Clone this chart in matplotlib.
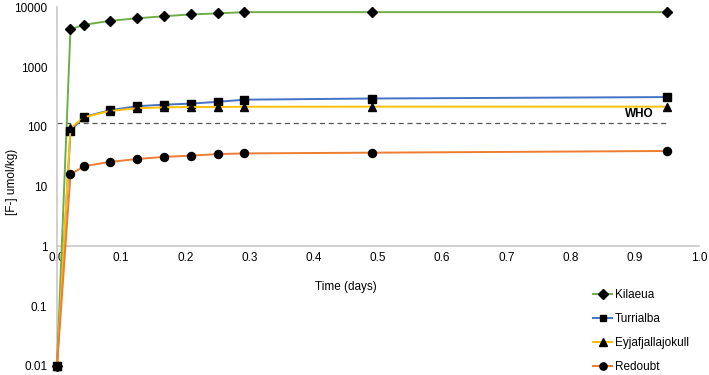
import numpy as np
import matplotlib
matplotlib.use("Agg")
import matplotlib.pyplot as plt
from matplotlib.ticker import FixedLocator, FixedFormatter

plt.rcParams['font.family'] = ['Liberation Sans', 'DejaVu Sans']

# time in days
time = [0.0, 0.021, 0.042, 0.083, 0.125, 0.167, 0.208, 0.25, 0.292, 0.49, 0.95]

kilaeua = [0.01, 4300, 5100, 5950, 6550, 7100, 7600, 7900, 8300, 8300, 8300]
turrialba = [0.01, 85, 147, 190, 222, 235, 245, 262, 285, 298, 315]
eyjafjallajokull = [0.01, 95, 145, 185, 205, 212, 215, 215, 217, 218, 218]
redoubt = [0.01, 16, 22, 26, 29, 31.5, 33, 35, 36, 37, 39.5]

who_level = 118

series_names = ['Kilaeua', 'Turrialba', 'Eyjafjallajokull', 'Redoubt']
series_vals = [kilaeua, turrialba, eyjafjallajokull, redoubt]
colors = ['#70AD47', '#4472C4', '#FFC000', '#ED7D31']
markers = ['D', 's', '^', 'o']
msizes = [5.2, 5.3, 5.8, 5.8]

yticks = [0.01, 0.1, 1, 10, 100, 1000, 10000]
ytick_labels = ['0.01', '0.1', '1', '10', '100', '1000', '10000']
xticks = [0.0, 0.1, 0.2, 0.3, 0.4, 0.5, 0.6, 0.7, 0.8, 0.9, 1.0]

fig = plt.figure(figsize=(7.09, 3.75), dpi=100)
ax = fig.add_axes([57/709, 9/375, 642/709, 358.7/375])

for name, vals, c, m, ms in zip(series_names, series_vals, colors, markers, msizes):
    ax.plot(time, vals, color=c, lw=1.4, marker=m, ms=ms, mfc='black',
            mec='black', label=name, clip_on=False, zorder=3)

ax.plot([0, 0.95], [who_level, who_level], color='#555555', lw=0.9,
        ls=(0, (4, 3)), zorder=2)
ax.text(0.93, who_level * 1.12, 'WHO', fontsize=8.5, fontweight='bold',
        ha='right', va='bottom')

ax.set_yscale('log')
ax.set_ylim(0.01, 10000)
ax.set_xlim(0, 1.0)
ax.yaxis.set_major_locator(FixedLocator(yticks))
ax.yaxis.set_major_formatter(FixedFormatter(ytick_labels))
ax.yaxis.set_minor_locator(FixedLocator([]))
ax.set_xticks(xticks)
ax.set_xticklabels(['%.1f' % t for t in xticks])

for s in ['top', 'right']:
    ax.spines[s].set_visible(False)
ax.spines['bottom'].set_position(('data', 1))
ax.spines['bottom'].set_color('#c8c8c8')
ax.spines['left'].set_color('#c8c8c8')
ax.spines['bottom'].set_linewidth(1.2)
ax.spines['left'].set_linewidth(1.2)
ax.tick_params(axis='both', length=0, labelsize=8.5)
ax.tick_params(axis='y', pad=7)
ax.tick_params(axis='x', pad=4)

fig.text(346/709, 1 - 287/375, 'Time (days)', fontsize=8.5, ha='center', va='center')
fig.text(12.5/709, 1 - 182/375, '[F-] umol/kg)', fontsize=8.5, rotation=90,
         ha='center', va='center')

leg = ax.legend(loc='upper left', bbox_to_anchor=(585/709, 1 - 281/375),
                bbox_transform=fig.transFigure, frameon=False, fontsize=8.5,
                handlelength=1.6, handletextpad=0.2, labelspacing=1.0,
                markerscale=0.9, borderpad=0.2)

fig.savefig('out.png', dpi=100)
